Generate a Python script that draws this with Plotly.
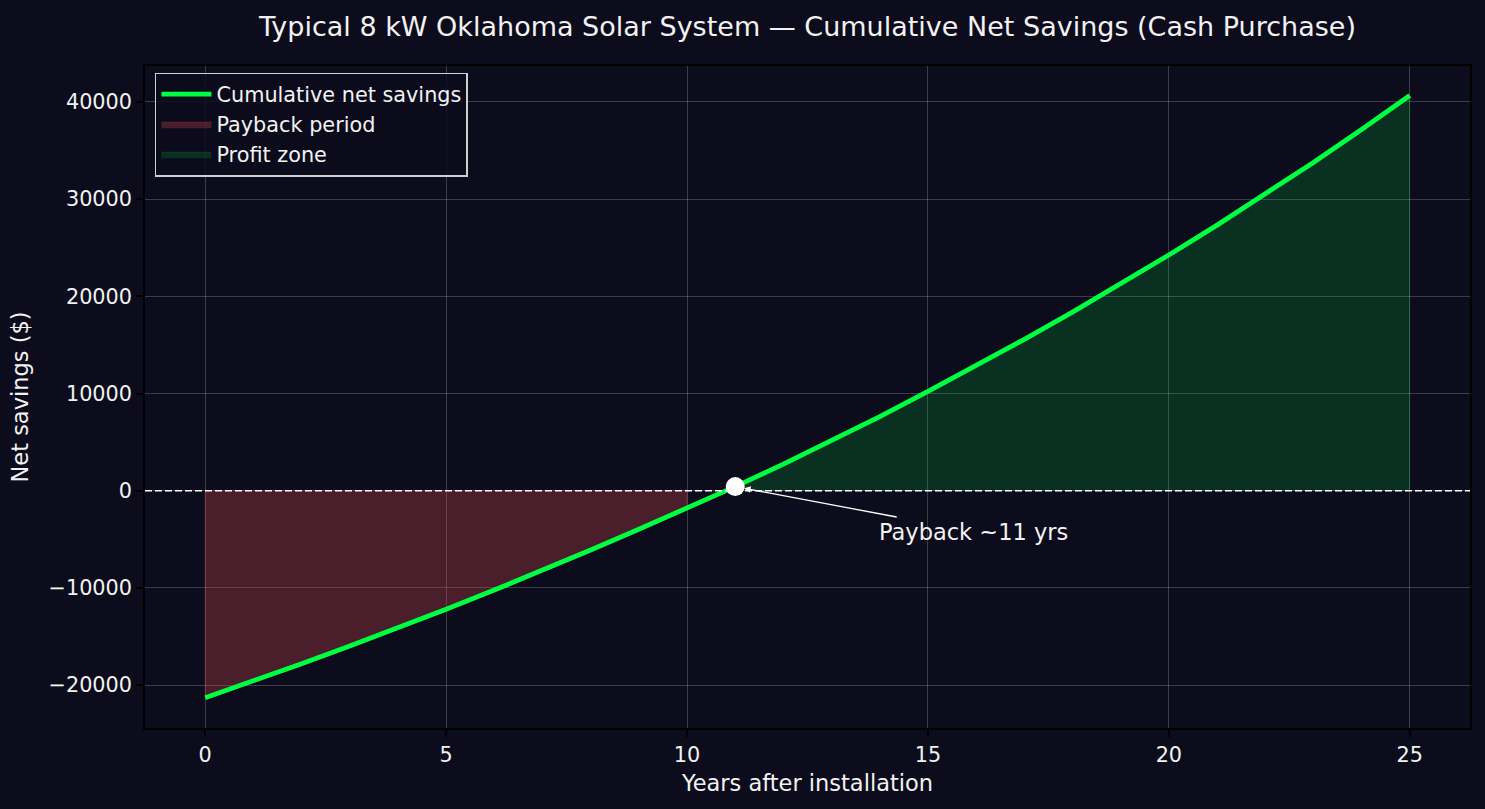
import plotly.graph_objects as go

years = list(range(26))
cum_savings = [-21300, -19580, -17810, -15990, -14120, -12200, -10230, -8200,
               -6110, -3970, -1800, 420, 2730, 5130, 7630, 10230, 12860, 15570,
               18380, 21270, 24250, 27330, 30510, 33780, 37170, 40660]
payback_year = 11
x_ticks = [0, 5, 10, 15, 20, 25]
y_ticks = [-20000, -10000, 0, 10000, 20000, 30000, 40000]
y_ticktext = ["\u221220000", "\u221210000", "0", "10000", "20000", "30000", "40000"]

BG = "#0c0c1c"
TXT = "#f2f2f2"
FONT = "DejaVu Sans"
GREEN = "#00ff41"
RED_FILL = "rgba(219,72,78,0.30)"
GREEN_FILL = "rgba(0,255,65,0.15)"

neg = [(x, y) for x, y in zip(years, cum_savings) if y < 0]
pos = [(x, y) for x, y in zip(years, cum_savings) if y >= 0]
neg_x = [p[0] for p in neg]
neg_y = [p[1] for p in neg]
pos_x = [p[0] for p in pos]
pos_y = [p[1] for p in pos]

fig = go.Figure()

fig.add_trace(go.Scatter(
    x=[neg_x[0]] + neg_x + [neg_x[-1], neg_x[0]],
    y=[0] + neg_y + [0, 0],
    fill="toself", fillcolor=RED_FILL,
    line=dict(color=RED_FILL, width=1),
    mode="lines", name="Payback period", hoverinfo="skip"))

fig.add_trace(go.Scatter(
    x=[pos_x[0]] + pos_x + [pos_x[-1], pos_x[0]],
    y=[0] + pos_y + [0, 0],
    fill="toself", fillcolor=GREEN_FILL,
    line=dict(color=GREEN_FILL, width=1),
    mode="lines", name="Profit zone", hoverinfo="skip"))

fig.add_trace(go.Scatter(
    x=years, y=cum_savings, mode="lines",
    line=dict(color=GREEN, width=4.8),
    name="Cumulative net savings"))

fig.add_trace(go.Scatter(
    x=[payback_year], y=[cum_savings[years.index(payback_year)]],
    mode="markers", marker=dict(color="white", size=19),
    showlegend=False, hoverinfo="skip"))

fig.add_shape(type="line", xref="paper", x0=0, x1=1, yref="y", y0=0, y1=0,
              line=dict(color="white", width=1.5, dash="7px,3px"), layer="above")

fig.add_annotation(
    x=payback_year, y=cum_savings[years.index(payback_year)],
    ax=15.95, ay=-4200, axref="x", ayref="y", xref="x", yref="y",
    text="Payback ~11 yrs", showarrow=True, arrowhead=2, arrowsize=1,
    arrowwidth=1.3, arrowcolor="white", standoff=9,
    font=dict(family=FONT, size=22.5, color=TXT))

fig.update_layout(
    width=1485, height=809,
    paper_bgcolor=BG, plot_bgcolor=BG,
    margin=dict(l=145, r=15, t=66, b=81),
    font=dict(family=FONT, color=TXT, size=20.8),
    title=dict(text="Typical 8 kW Oklahoma Solar System \u2014 Cumulative Net Savings (Cash Purchase)",
               x=0.5, xref="paper", xanchor="center", y=1 - 27 / 809, yref="container",
               yanchor="middle", font=dict(family=FONT, size=27, color=TXT)),
    legend=dict(x=0.0075, y=0.99, xanchor="left", yanchor="top",
                bgcolor="rgba(12,12,28,0.85)", bordercolor="#cfcfcf", borderwidth=1.5,
                font=dict(family=FONT, size=20.8, color=TXT),
                traceorder="normal", itemwidth=50),
    showlegend=True,
)

fig.update_xaxes(
    range=[-1.25, 26.25], tickvals=x_ticks, ticks="outside", ticklen=7, tickwidth=1.5,
    tickcolor="black", showline=True, linecolor="black", linewidth=1.5, mirror=True,
    showgrid=True, gridcolor="rgba(255,255,255,0.2)", gridwidth=1.3, zeroline=False,
    tickfont=dict(family=FONT, size=20.8, color=TXT),
    title=dict(text="Years after installation", standoff=10,
               font=dict(family=FONT, size=22.5, color=TXT)))

fig.update_yaxes(
    range=[-24420, 43700], tickvals=y_ticks, ticktext=y_ticktext, ticks="outside",
    ticklen=7, tickwidth=1.5, tickcolor="black", showline=True, linecolor="black",
    linewidth=1.5, mirror=True, showgrid=True, gridcolor="rgba(255,255,255,0.2)",
    gridwidth=1.3, zeroline=False,
    tickfont=dict(family=FONT, size=20.8, color=TXT),
    title=dict(text="Net savings ($)", standoff=14,
               font=dict(family=FONT, size=22.5, color=TXT)))

fig.data[2].legendrank = 1
fig.data[0].legendrank = 2
fig.data[1].legendrank = 3

fig.write_html("out.html", config={"displayModeBar": False},
               post_script="document.body.style.margin='0px';document.body.style.background='#0c0c1c';")
